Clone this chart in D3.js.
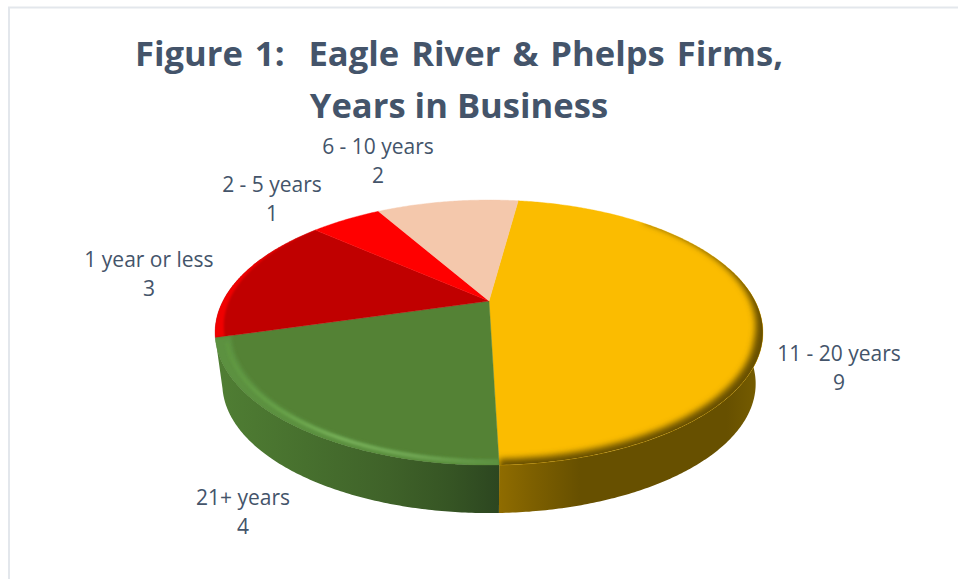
<!DOCTYPE html>
<html>
<head>
<meta charset="utf-8">
<style>html,body{margin:0;padding:0;background:#fff}svg{display:block}</style>
<script src="https://cdn.jsdelivr.net/npm/d3@7"></script>
</head>
<body>
<svg id="chart" width="958" height="579"></svg>
<script>
const categories = ["11 - 20 years", "21+ years", "1 year or less", "2 - 5 years", "6 - 10 years"];
const firmCounts = [9, 4, 3, 1, 2];
const sliceColors = ["#FBBC00", "#548235", "#C00000", "#FF0000", "#F4C8AC"];
const titleLines = ["Figure 1:  Eagle River & Phelps Firms,", "Years in Business"];
const titleWordGaps = [3, 0];
const labelAnchors = [[839, 354], [243, 498], [149, 260], [272, 185], [378, 147]];

const svg = d3.select("#chart");
const defs = svg.append("defs");
const TAU = Math.PI * 2;

// Tilted disc: a perspective mapping of the unit circle onto the page.
const disc = {cx: 489, cy: 301, ax: 266, ay: 125, k: 0.238};
const lowerDisc = {cx: 489, cy: 353, ax: 259, ay: 122, k: 0.238};
function project(d, angle, r = 1) {
  const u = Math.sin(angle) * r, v = -Math.cos(angle) * r;
  const w = 1 - d.k * v;
  return [d.cx + d.ax * u / w, d.cy + d.ay * v / w];
}
const line = d3.line();
function arcPoints(d, a0, a1, r = 1) {
  const n = Math.max(2, Math.ceil(Math.abs(a1 - a0) / 0.01));
  return d3.range(n + 1).map(i => {
    const a = a0 + (a1 - a0) * i / n;
    return project(d, a, typeof r === "function" ? r(a) : r);
  });
}
// Closed strip between two radii over an angular range
function band(a0, a1, rOuter, rInner) {
  return line(arcPoints(disc, a0, a1, rOuter).concat(arcPoints(disc, a1, a0, rInner))) + "Z";
}

const startAngle = 7.8 * Math.PI / 180;
const pie = d3.pie().sort(null).startAngle(startAngle).endAngle(startAngle + TAU);
const arcs = pie(firmCounts);
const [goldArc, greenArc, darkRedArc] = arcs;

// Soft filters for the bevel shading
[["soft1", 0.8], ["soft2", 1.6], ["soft3", 3.2]].forEach(([id, s]) => {
  defs.append("filter").attr("id", id)
    .attr("x", "-15%").attr("y", "-15%").attr("width", "130%").attr("height", "130%")
    .append("feGaussianBlur").attr("stdDeviation", s);
});

// Chart frame
svg.append("path").attr("d", "M9,579V7.5H958")
  .attr("fill", "none").attr("stroke", "#E3E7EC").attr("stroke-width", 2);

// Side wall gradients
const wallStops = [
  [[0, "#8F6C00"], [0.12, "#7E6000"], [0.3, "#675000"], [0.85, "#675000"], [1, "#7A6000"]],
  [[0, "#4F7D33"], [0.3, "#47702E"], [0.6, "#3F6229"], [0.82, "#365524"], [1, "#2C4620"]]
];
const wallRange = [
  [project(disc, goldArc.endAngle)[0], project(disc, Math.PI / 2)[0] + 12],
  [project(disc, 3 * Math.PI / 2)[0], project(disc, greenArc.startAngle)[0]]
];
wallStops.forEach((stops, i) => {
  const g = defs.append("linearGradient").attr("id", "wall" + i)
    .attr("gradientUnits", "userSpaceOnUse")
    .attr("x1", wallRange[i][0]).attr("x2", wallRange[i][1]).attr("y1", 0).attr("y2", 0);
  stops.forEach(([o, c]) => g.append("stop").attr("offset", o).attr("stop-color", c));
});

// Ridge colour runs from a muted left end to a bright middle and back
const ridge = defs.append("linearGradient").attr("id", "ridge")
  .attr("gradientUnits", "userSpaceOnUse")
  .attr("x1", wallRange[1][0]).attr("x2", wallRange[1][1]).attr("y1", 0).attr("y2", 0);
[[0, "#5E9640"], [0.2, "#66A047"], [0.42, "#75AE57"], [0.7, "#6FA552"], [1, "#5C9040"]]
  .forEach(([o, c]) => ridge.append("stop").attr("offset", o).attr("stop-color", c));

// Side wall: only the gold and green wedges reach the front of the disc
const wall = svg.append("g");
[goldArc, greenArc].forEach((a, i) => {
  const s = i === 0 ? Math.PI / 2 - 0.28 : a.startAngle;
  const top = arcPoints(disc, s, a.endAngle), bottom = arcPoints(lowerDisc, a.endAngle, s);
  wall.append("path")
    .attr("d", line(top.concat(bottom)) + "Z")
    .attr("fill", `url(#wall${i})`);
});

// Top face, one wedge per category
const face = svg.append("g");
const wedgePath = a => line([[disc.cx, disc.cy]].concat(arcPoints(disc, a.startAngle, a.endAngle))) + "Z";
arcs.forEach((a, i) => {
  defs.append("clipPath").attr("id", "sliceClip" + i).append("path").attr("d", wedgePath(a));
  face.append("path").attr("d", wedgePath(a)).attr("fill", sliceColors[i])
    .attr("stroke", sliceColors[i]).attr("stroke-width", 0.4);
});

// Bevel along the outer edge of each wedge
const bevel = svg.append("g");
const inSlice = i => bevel.append("g").attr("clip-path", `url(#sliceClip${i})`);

// Bright red lip on the dark red wedge, widening towards the front
const redSpan = darkRedArc.endAngle - darkRedArc.startAngle;
inSlice(2).append("path")
  .attr("d", band(darkRedArc.startAngle, darkRedArc.endAngle, 1.1,
    a => 0.968 + 0.034 * (a - darkRedArc.startAngle) / redSpan))
  .attr("fill", "#F00000").attr("filter", "url(#soft1)");

// Dark lip on the gold wedge where the top rolls into the wall
const lipFrom = goldArc.startAngle + 0.6, lipFull = Math.PI / 2 + 0.3;
inSlice(0).append("path")
  .attr("d", band(lipFrom, goldArc.endAngle, 1.12, a =>
    1.012 - 0.04 * Math.min(1, Math.max(0, (a - lipFrom) / (lipFull - lipFrom)))))
  .attr("fill", "#675000").attr("filter", "url(#soft3)");

// Light ridge on the green wedge
const greenSpan = greenArc.endAngle - greenArc.startAngle;
const greenT = a => (a - greenArc.startAngle) / greenSpan;
const greenFace = inSlice(1);
greenFace.append("path")
  .attr("d", band(greenArc.startAngle, greenArc.endAngle, 1.1, a => 0.975 - 0.03 * greenT(a)))
  .attr("fill", "#5C9140").attr("filter", "url(#soft2)");
greenFace.append("path")
  .attr("d", line(arcPoints(disc, greenArc.startAngle, greenArc.endAngle - 0.05, a => 0.985 - 0.022 * greenT(a))))
  .attr("fill", "none").attr("stroke", "url(#ridge)").attr("stroke-width", 3.5)
  .attr("filter", "url(#soft1)");
greenFace.append("path")
  .attr("d", band(greenArc.startAngle, greenArc.endAngle, 1.1, 1.006))
  .attr("fill", "#3F6529").attr("filter", "url(#soft1)");

// Title
const textFont = "'Open Sans', sans-serif";
svg.append("g").selectAll("text").data(titleLines).join("text")
  .attr("x", 459).attr("y", (d, i) => 66 + i * 52)
  .attr("text-anchor", "middle")
  .attr("font-family", textFont).attr("font-weight", 700).attr("font-size", 34.6)
  .attr("fill", "#44546A").style("white-space", "pre")
  .style("word-spacing", (d, i) => titleWordGaps[i] + "px")
  .text(d => d);

// Data labels: category name above its count
const labels = svg.append("g").attr("font-family", textFont).attr("font-size", 21)
  .attr("fill", "#44546A").attr("text-anchor", "middle");
categories.forEach((c, i) => {
  const [x, y] = labelAnchors[i];
  labels.append("text").attr("x", x).attr("y", y + 7).text(c);
  labels.append("text").attr("x", x).attr("y", y + 36).text(firmCounts[i]);
});
</script>
</body>
</html>
